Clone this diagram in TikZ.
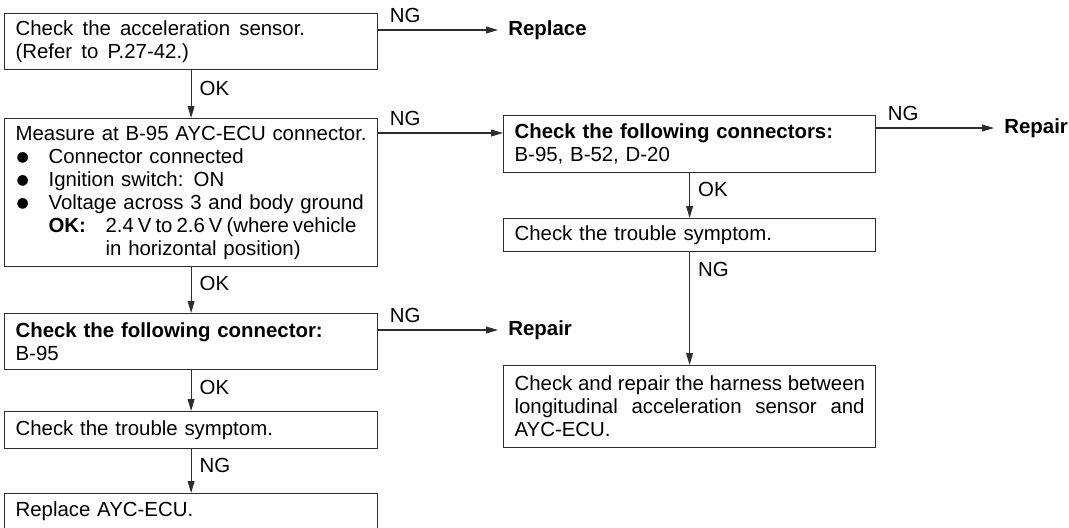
\documentclass[tikz,border=0pt]{standalone}
\usepackage{fontspec}
\setmainfont{Liberation Sans}
\newfontfamily\symbolfont{DejaVu Sans}
\usetikzlibrary{arrows.meta,positioning,calc}
\definecolor{lineblack}{RGB}{45,45,45}
\newcommand{\bigbullet}{\makebox[16.5pt][l]{\hspace{0.5pt}\raisebox{0.9pt}{\symbolfont\fontsize{7}{7}\selectfont ●}}}
\tikzset{
    % Flowchart step box
    stepbox/.style={
        draw=lineblack, line width=0.6pt, anchor=north west,
        align=left, inner xsep=5.5pt, inner ysep=1pt,
        font=\fontsize{10.2}{11.5}\selectfont
    },
    % Left and right column widths
    leftbox/.style={stepbox, text width=175.5pt},
    rightbox/.style={stepbox, text width=175pt},
    % Final action (no box)
    actionnode/.style={anchor=west, inner xsep=5pt, font=\fontsize{10.2}{11.5}\selectfont\bfseries},
    % Connectors and their labels
    flowarrow/.style={draw=lineblack, line width=0.6pt, -{Triangle[length=6pt,width=3.4pt]}},
    oklabel/.style={anchor=west, inner sep=0pt, xshift=4pt, font=\fontsize{10.2}{11.5}\selectfont},
    nglabel/.style={anchor=south west, inner sep=0pt, xshift=5.5pt, yshift=3.5pt, font=\fontsize{10.2}{11.5}\selectfont},
}
\begin{document}
\begin{tikzpicture}[x=0.5pt,y=-0.5pt]
  \useasboundingbox (0,0) rectangle (1069,527);
  % left column
  \node[leftbox, minimum height=28pt] (sensor) at (4,13)
    {\spaceskip=4.6pt Check the acceleration sensor.\\(Refer to P.27-42.)};
  \node[leftbox, minimum height=74pt] (measure) at (4,118)
    {\mbox{Measure at B-95 AYC-ECU connector.}\\
     \bigbullet Connector connected\\
     \bigbullet Ignition switch: ON\\
     \bigbullet \mbox{Voltage across 3 and body ground}\\
     \hspace*{16.5pt}\makebox[28.5pt][l]{\textbf{OK:}}\mbox{\spaceskip=2pt plus 1pt 2.4 V to 2.6 V (where vehicle}\\
     \hspace*{45pt}in horizontal position)};
  \node[leftbox, minimum height=28pt] (conn) at (4,313)
    {\textbf{Check the following connector:}\\B-95};
  \node[leftbox, minimum height=18.5pt] (symptom) at (4,411)
    {Check the trouble symptom.};
  \node[leftbox, minimum height=18pt] (ecu) at (4,493)
    {Replace AYC-ECU.};
  % right column
  \node[rightbox, minimum height=28.5pt] (conns) at (503,115)
    {\textbf{Check the following connectors:}\\B-95, B-52, D-20};
  \node[rightbox, minimum height=16.5pt] (symptomR) at (503,218)
    {Check the trouble symptom.};
  \node[rightbox, minimum height=41pt, align=justify] (harness) at (503,365)
    {\mbox{Check and repair the harness between}\linebreak
     longitudinal acceleration sensor and\linebreak AYC-ECU.};
  % end actions
  \node[actionnode] (replace) at (498,30) {Replace};
  \node[actionnode] (repairL) at (498,330) {Repair};
  \node[actionnode] (repairR) at (994,128) {Repair};
  \coordinate (connsin) at (503,133);

  % OK / NG connectors
  \draw[flowarrow] (sensor.south) -- node[oklabel, pos=0.38] {OK} (measure.north);
  \draw[flowarrow] (measure.south) -- node[oklabel, pos=0.36] {OK} (conn.north);
  \draw[flowarrow] (conn.south) -- node[oklabel, pos=0.43] {OK} (symptom.north);
  \draw[flowarrow] (symptom.south) -- node[oklabel, pos=0.38] {NG} (ecu.north);
  \draw[flowarrow] (conns.south) -- node[oklabel, pos=0.37] {OK} (symptomR.north);
  \draw[flowarrow] (symptomR.south) -- node[oklabel, pos=0.15] {NG} (harness.north);

  \draw[flowarrow] (sensor.east |- replace) -- node[nglabel, pos=0] {NG} (replace);
  \draw[flowarrow] (measure.east |- connsin) -- node[nglabel, pos=0] {NG} (connsin);
  \draw[flowarrow] (conn.east |- repairL) -- node[nglabel, pos=0] {NG} (repairL);
  \draw[flowarrow] (conns.east |- repairR) -- node[nglabel, pos=0] {NG} (repairR);
\end{tikzpicture}
\end{document}
